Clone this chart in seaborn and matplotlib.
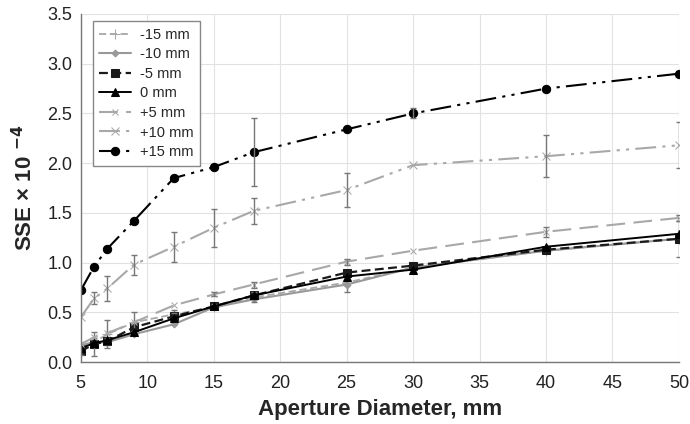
import numpy as np
import pandas as pd
import seaborn as sns
import matplotlib.pyplot as plt

aperture = [5, 6, 7, 9, 12, 15, 18, 25, 30, 40, 50]
labels = ['-15 mm', '-10 mm', '-5 mm', '0 mm', '+5 mm', '+10 mm', '+15 mm']

sse_m15 = [0.15, 0.20, 0.28, 0.40, 0.48, 0.55, 0.65, 0.80, 0.95, 1.12, 1.24]
sse_m10 = [0.17, 0.20, 0.20, 0.28, 0.38, 0.55, 0.63, 0.78, 0.95, 1.12, 1.24]
sse_m5 = [0.11, 0.18, 0.21, 0.35, 0.46, 0.56, 0.67, 0.90, 0.97, 1.13, 1.24]
sse_0 = [0.14, 0.19, 0.22, 0.30, 0.44, 0.56, 0.67, 0.86, 0.93, 1.16, 1.29]
sse_p5 = [0.18, 0.25, 0.29, 0.40, 0.57, 0.68, 0.78, 1.01, 1.12, 1.31, 1.45]
sse_p10 = [0.45, 0.64, 0.74, 0.98, 1.16, 1.35, 1.52, 1.73, 1.98, 2.07, 2.18]
sse_p15 = [0.72, 0.96, 1.14, 1.42, 1.85, 1.96, 2.11, 2.34, 2.50, 2.75, 2.90]

# standard deviations (0 = no bar visible)
err_m15 = [0, 0.04, 0.14, 0.10, 0.04, 0, 0, 0.10, 0, 0, 0.18]
err_m10 = [0, 0, 0.03, 0, 0, 0, 0.03, 0, 0, 0.02, 0]
err_m5 = [0.04, 0.12, 0.03, 0.04, 0.03, 0.02, 0.03, 0, 0, 0, 0]
err_0 = [0, 0, 0, 0, 0, 0, 0, 0, 0, 0, 0]
err_p5 = [0, 0, 0, 0, 0, 0.02, 0.03, 0.03, 0, 0.05, 0.03]
err_p10 = [0, 0.06, 0.13, 0.10, 0.15, 0.19, 0.13, 0.17, 0, 0.21, 0.23]
err_p15 = [0, 0, 0, 0, 0, 0, 0.34, 0, 0.05, 0, 0]

values = [sse_m15, sse_m10, sse_m5, sse_0, sse_p5, sse_p10, sse_p15]
errors = [err_m15, err_m10, err_m5, err_0, err_p5, err_p10, err_p15]

df = pd.DataFrame({
    'aperture': aperture * len(labels),
    'sse': np.concatenate(values),
    'err': np.concatenate(errors),
    'offset': np.repeat(labels, len(aperture)),
})

sns.set_theme(style='whitegrid')
plt.rcParams['font.family'] = ['Liberation Sans', 'DejaVu Sans']

styles = {
    '-15 mm': dict(color='#a8a8a8', ls=(0, (4, 2)), marker='+', ms=7, lw=1.3),
    '-10 mm': dict(color='#999999', ls='-', marker='D', ms=3.5, lw=1.5),
    '-5 mm': dict(color='#1a1a1a', ls=(0, (4, 2)), marker='s', ms=6, lw=1.6),
    '0 mm': dict(color='#000000', ls='-', marker='^', ms=5.5, lw=1.4),
    '+5 mm': dict(color='#a8a8a8', ls=(0, (9, 4)), marker='x', ms=5, lw=1.5),
    '+10 mm': dict(color='#a8a8a8', ls=(0, (10, 3, 1.5, 3, 1.5, 3)), marker='x', ms=6, lw=1.5),
    '+15 mm': dict(color='#000000', ls=(0, (10, 3, 1.5, 3, 1.5, 3)), marker='o', ms=6, lw=1.5),
}

fig, ax = plt.subplots(figsize=(6.9, 4.24), dpi=100)
fig.subplots_adjust(left=0.117, right=0.984, bottom=0.146, top=0.967)

for lab in labels:
    sub = df[df['offset'] == lab]
    st = styles[lab]
    sns.lineplot(data=sub, x='aperture', y='sse', ax=ax, color=st['color'],
                 linestyle=st['ls'], marker=st['marker'], markersize=st['ms'],
                 linewidth=st['lw'], markeredgecolor=st['color'], label=lab)
    eb = sub[sub['err'] > 0]
    ax.errorbar(eb['aperture'], eb['sse'], yerr=eb['err'], fmt='none',
                ecolor='#777777', elinewidth=1, capsize=2.5, capthick=1)

ax.set_xlim(5, 50)
ax.set_ylim(0, 3.5)
ax.set_xticks(range(5, 51, 5))
ax.set_yticks(np.arange(0, 3.51, 0.5))
ax.set_yticklabels([f'{v:.1f}' for v in np.arange(0, 3.51, 0.5)])
ax.tick_params(labelsize=13, colors='#222222', length=0)
ax.tick_params(axis='x', pad=9)
ax.tick_params(axis='y', pad=6)
ax.grid(color='#e2e2e2', linewidth=0.8)
for s in ['top', 'right']:
    ax.spines[s].set_visible(False)
for s in ['left', 'bottom']:
    ax.spines[s].set_color('#777777')
    ax.spines[s].set_linewidth(1)

ax.set_xlabel('Aperture Diameter, mm', fontsize=16, fontweight='bold', labelpad=5)
ax.set_ylabel('SSE × 10 $^{\\mathbf{- 4}}$', fontsize=16, fontweight='bold', labelpad=7)

leg = ax.legend(loc='upper left', bbox_to_anchor=(0.008, 1.0), fontsize=10.5,
                frameon=True, fancybox=False, edgecolor='#888888', framealpha=1,
                handlelength=2.2, handletextpad=0.6, labelspacing=0.38,
                borderpad=0.45)
leg.get_frame().set_linewidth(1)
leg.set_zorder(10)

plt.savefig('out.png', dpi=100)
